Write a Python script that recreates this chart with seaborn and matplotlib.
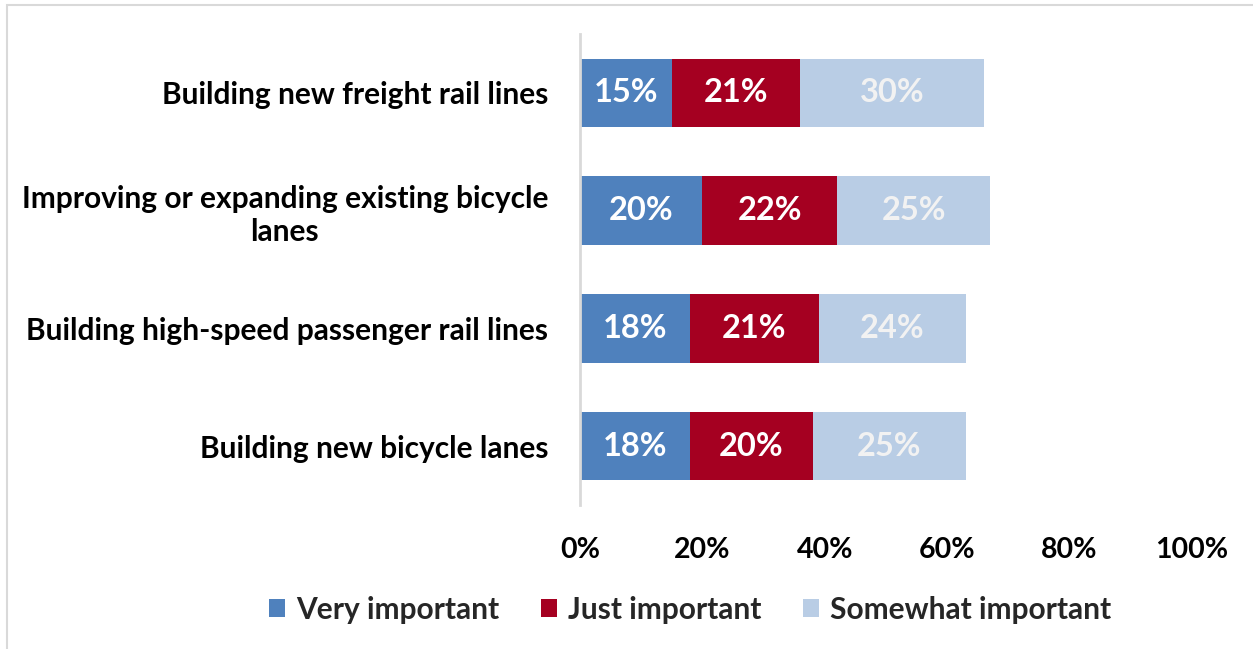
import matplotlib
matplotlib.use("Agg")
import matplotlib.pyplot as plt
from matplotlib.patches import Patch, Rectangle
import numpy as np
import pandas as pd
import seaborn as sns

# Survey items and the share of respondents in each importance band (%)
categories = [
    "Building new freight rail lines",
    "Improving or expanding existing bicycle\nlanes",
    "Building high-speed passenger rail lines",
    "Building new bicycle lanes",
]
very_important = [15, 20, 18, 18]
just_important = [21, 22, 21, 20]
somewhat_important = [30, 25, 24, 25]

series_names = ["Very important", "Just important", "Somewhat important"]
series_values = [very_important, just_important, somewhat_important]
colors = ["#4f81bd", "#a50021", "#b9cde5"]
label_colors = ["white", "white", "#f2f2f2"]
xticks = [0, 20, 40, 60, 80, 100]
xtick_labels = ["0%", "20%", "40%", "60%", "80%", "100%"]

sns.set_theme(style="white")
plt.rcParams["font.family"] = ["Lato", "DejaVu Sans"]
plt.rcParams["font.weight"] = "bold"

W, H = 1253, 649
fig = plt.figure(figsize=(W / 100, H / 100), dpi=100)
fig.patch.set_facecolor("white")
ax = fig.add_axes([580 / W, 1 - 505 / H, (1192 - 580) / W, (505 - 34) / H])

# cumulative ends of each stacked segment
vals = np.array(series_values, dtype=float)
ends = np.cumsum(vals, axis=0)
starts = ends - vals

# draw the longest stack first so shorter ones sit on top
for i in reversed(range(len(series_names))):
    df = pd.DataFrame({"category": categories, "value": ends[i]})
    sns.barplot(data=df, x="value", y="category", order=categories,
                color=colors[i], width=0.58, saturation=1, ax=ax,
                edgecolor="none", linewidth=0)

for i in range(len(series_names)):
    for j, cat in enumerate(categories):
        v = vals[i, j]
        ax.text(starts[i, j] + v / 2, j, f"{v:.0f}%", ha="center", va="center",
                color=label_colors[i], fontsize=23.5, fontweight="bold")

ax.set_xlim(0, 100)
ax.set_ylim(len(categories) - 0.5, -0.5)
ax.set_xticks(xticks)
ax.set_xticklabels(xtick_labels, fontsize=20.5, fontweight="bold", color="black")
ax.tick_params(axis="x", length=0, pad=23)
ax.tick_params(axis="y", length=0, pad=23)
ax.set_yticks(range(len(categories)))
ax.set_yticklabels(categories, fontsize=21.5, fontweight="bold", color="black",
                   multialignment="center")
ax.set_xlabel("")
ax.set_ylabel("")
for side in ["top", "right", "bottom"]:
    ax.spines[side].set_visible(False)
ax.spines["left"].set_color("#d9d9d9")
ax.spines["left"].set_linewidth(2)
ax.grid(False)

handles = [Patch(facecolor=c, edgecolor="none") for c in colors]
fig.legend(handles, series_names, loc="center", bbox_to_anchor=(690 / W, 1 - 610 / H),
           ncol=3, frameon=False, handlelength=0.55, handleheight=0.55,
           handletextpad=0.35, columnspacing=1.4, prop={"weight": "bold", "size": 21.5})

# outer chart border
fig.patches.append(Rectangle((7 / W, -0.1), 1.2, 1 - 5 / H + 0.1, transform=fig.transFigure,
                             fill=False, edgecolor="#d9d9d9", linewidth=1.5))

fig.savefig("out.png", dpi=100, facecolor="white")
